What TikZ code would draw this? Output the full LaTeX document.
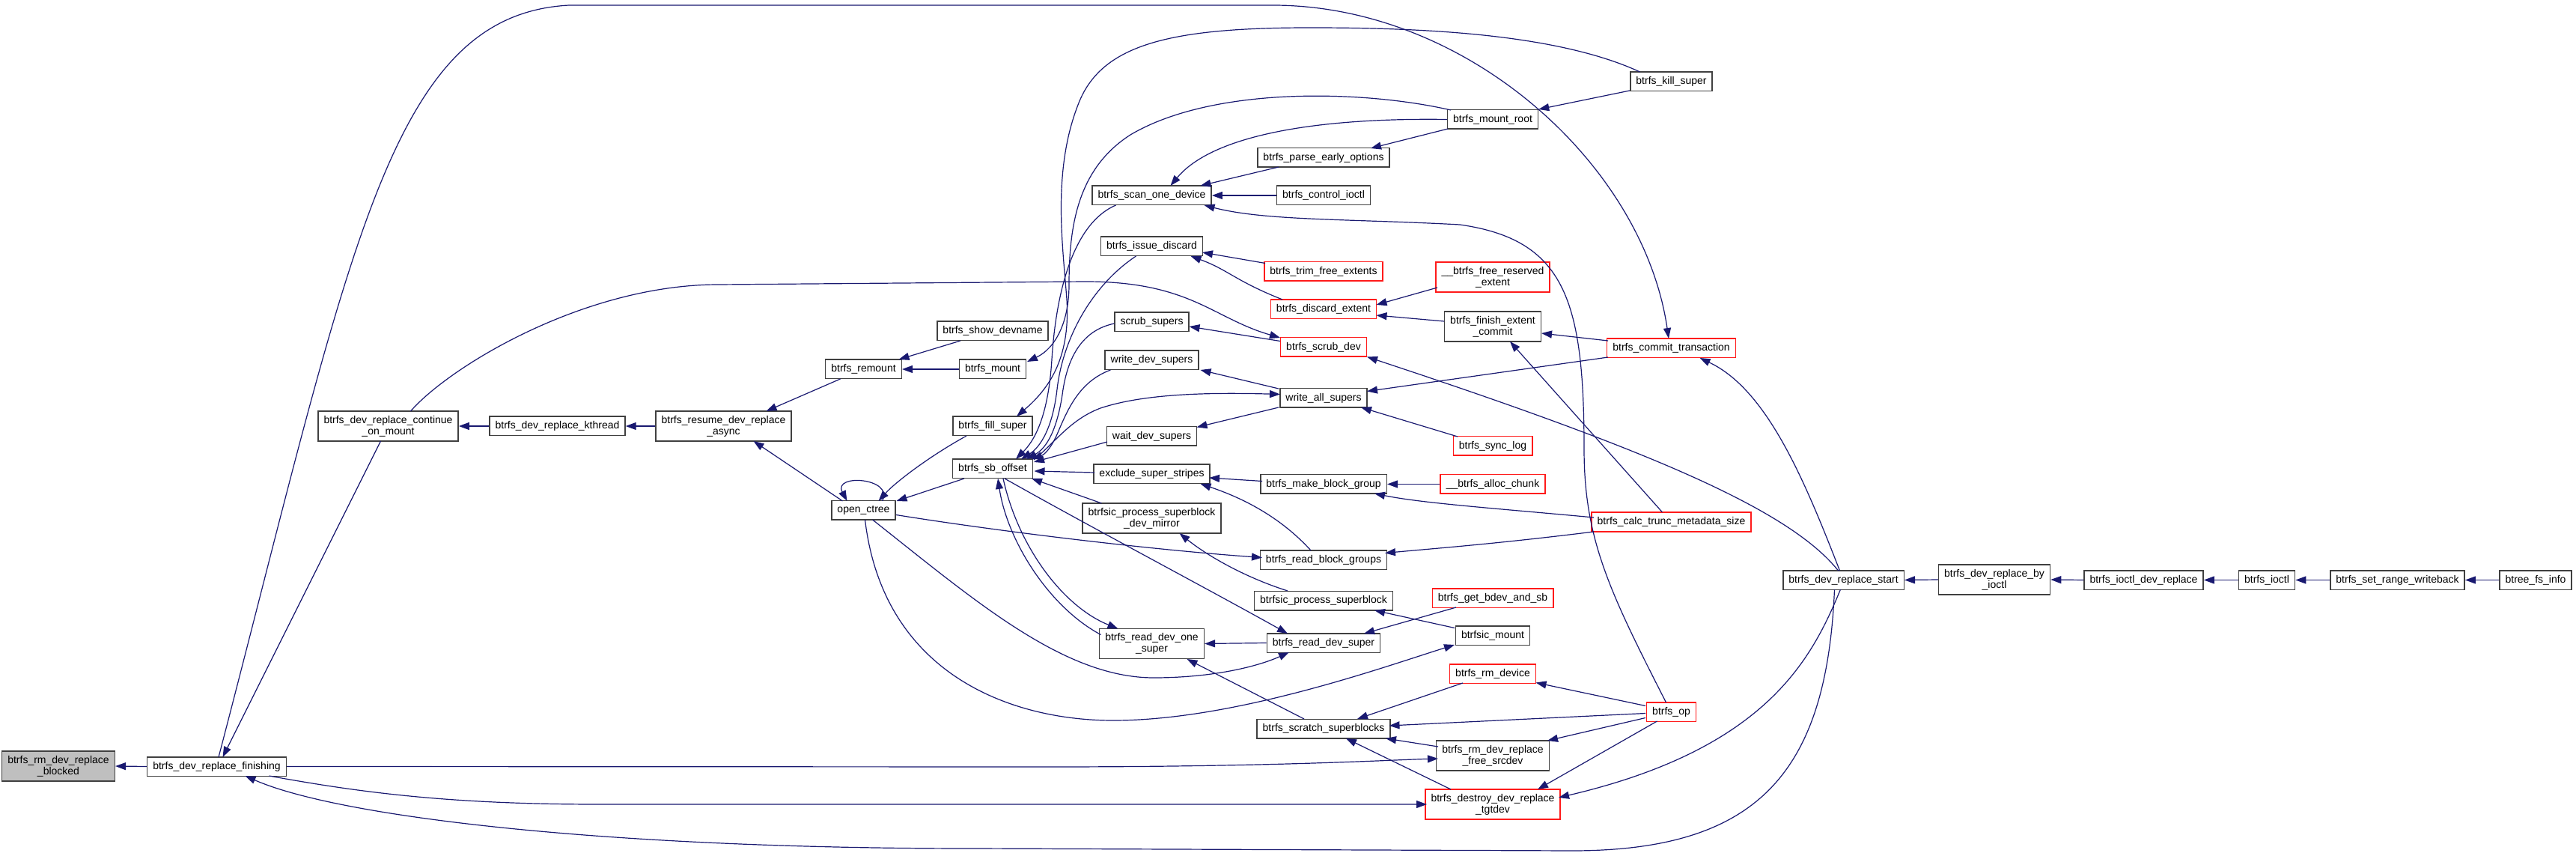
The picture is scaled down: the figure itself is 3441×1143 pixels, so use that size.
\documentclass[tikz,border=0pt]{standalone}
\usepackage{fontspec}
\setmainfont{Liberation Sans}
\usetikzlibrary{arrows.meta,calc}
\definecolor{edgec}{HTML}{191970}
\definecolor{nodeb}{HTML}{404040}
\definecolor{nred}{HTML}{FF1A1A}
\definecolor{ngray}{HTML}{BFBFBF}
\begin{document}
\begin{tikzpicture}[x=0.5pt,y=-0.5pt,
 nd/.style={draw=nodeb, line width=0.75pt, fill=white, inner xsep=3.8pt, inner ysep=0pt, minimum height=12.75pt, font=\fontsize{7}{7.5}\selectfont, align=center},
 twoline/.style={minimum height=20pt},
 rednd/.style={draw=nred},
 ed/.style={draw=edgec, line width=0.6pt, -{Triangle[length=7pt,width=5pt]}}]
\useasboundingbox (0,0) rectangle (3441,1143);
% nodes
\node[nd,fill=ngray,twoline] (blk) at (78,1023) {btrfs\_rm\_dev\_replace\\\_blocked};
\node[nd] (fin) at (289.5,1023.5) {btrfs\_dev\_replace\_finishing};
\node[nd,twoline] (com) at (518.5,569) {btrfs\_dev\_replace\_continue\\\_on\_mount};
\node[nd] (kth) at (744.5,569) {btrfs\_dev\_replace\_kthread};
\node[nd,twoline] (res) at (966.5,569) {btrfs\_resume\_dev\_replace\\\_async};
\node[nd] (rem) at (1153.5,493) {btrfs\_remount};
\node[nd] (oct) at (1153.5,681.5) {open\_ctree};
\node[nd] (sdn) at (1326,442) {btrfs\_show\_devname};
\node[nd] (mnt) at (1326,493) {btrfs\_mount};
\node[nd] (fil) at (1326,569) {btrfs\_fill\_super};
\node[nd] (sbo) at (1326,626) {btrfs\_sb\_offset};
\node[nd] (sod) at (1538.5,261) {btrfs\_scan\_one\_device};
\node[nd] (isd) at (1538.5,329) {btrfs\_issue\_discard};
\node[nd] (ssu) at (1538.5,430) {scrub\_supers};
\node[nd] (wds) at (1538.5,481) {write\_dev\_supers};
\node[nd] (wai) at (1538.5,582.5) {wait\_dev\_supers};
\node[nd] (ess) at (1538.5,633) {exclude\_super\_stripes};
\node[nd,twoline] (pdm) at (1538.5,692) {btrfsic\_process\_superblock\\\_dev\_mirror};
\node[nd,twoline] (rdo) at (1538.5,859.5) {btrfs\_read\_dev\_one\\\_super};
\node[nd] (peo) at (1768,210.5) {btrfs\_parse\_early\_options};
\node[nd] (cio) at (1768,261) {btrfs\_control\_ioctl};
\node[nd,rednd] (tfe) at (1768,362.5) {btrfs\_trim\_free\_extents};
\node[nd,rednd] (dex) at (1768,413) {btrfs\_discard\_extent};
\node[nd,rednd] (sdv) at (1768,463.5) {btrfs\_scrub\_dev};
\node[nd] (was) at (1768,531.5) {write\_all\_supers};
\node[nd] (mbg) at (1768,646.5) {btrfs\_make\_block\_group};
\node[nd] (rbg) at (1768,747.5) {btrfs\_read\_block\_groups};
\node[nd] (psb) at (1768,802) {btrfsic\_process\_superblock};
\node[nd] (rds) at (1768,858.5) {btrfs\_read\_dev\_super};
\node[nd] (scr) at (1768,973) {btrfs\_scratch\_superblocks};
\node[nd] (mro) at (1994,159.5) {btrfs\_mount\_root};
\node[nd,rednd,twoline] (fre) at (1994,370) {\_\_btrfs\_free\_reserved\\\_extent};
\node[nd,twoline] (fec) at (1994,436) {btrfs\_finish\_extent\\\_commit};
\node[nd,rednd] (slg) at (1994,595.5) {btrfs\_sync\_log};
\node[nd,rednd] (ach) at (1994,646.5) {\_\_btrfs\_alloc\_chunk};
\node[nd,rednd] (gbs) at (1994,798.5) {btrfs\_get\_bdev\_and\_sb};
\node[nd] (bmt) at (1994,848.5) {btrfsic\_mount};
\node[nd,rednd] (rmd) at (1994,899.5) {btrfs\_rm\_device};
\node[nd,twoline] (fsd) at (1994,1009) {btrfs\_rm\_dev\_replace\\\_free\_srcdev};
\node[nd,rednd,twoline] (dtg) at (1994,1074) {btrfs\_destroy\_dev\_replace\\\_tgtdev};
\node[nd] (kil) at (2232.5,109) {btrfs\_kill\_super};
\node[nd,rednd] (ctr) at (2232.5,465) {btrfs\_commit\_transaction};
\node[nd,rednd] (ctm) at (2232.5,697) {btrfs\_calc\_trunc\_metadata\_size};
\node[nd,rednd] (bop) at (2232.5,950.5) {btrfs\_op};
\node[nd] (drs) at (2462.5,774.5) {btrfs\_dev\_replace\_start};
\node[nd,twoline] (dbi) at (2664,774) {btrfs\_dev\_replace\_by\\\_ioctl};
\node[nd] (idr) at (2863.5,774.5) {btrfs\_ioctl\_dev\_replace};
\node[nd] (bio) at (3028,774.5) {btrfs\_ioctl};
\node[nd] (srw) at (3202.5,774.5) {btrfs\_set\_range\_writeback};
\node[nd] (bfi) at (3387,774.5) {btree\_fs\_info};
% edges
\draw[ed] (fin.west) -- (blk.east);
\draw[ed] ($(com)+(-10,20)$) -- ($(fin)+(8,-12.5)$);
\draw[ed] ($(fin)+(2.5,-12.5)$) .. controls (470,330) and (520,20) .. (760,7) -- (1700,7) .. controls (1960,7) and (2195,220) .. ($(ctr)+(-3.5,-13)$);
\draw[ed] (fin.east) -- (1400,1024) .. controls (1700,1024) and (1850,1015) .. ($(fsd)+(-73,4)$);
\draw[ed] ($(fin)+(70,12.5)$) .. controls (480,1058) and (600,1074) .. (800,1074) -- ($(dtg)+(-88,0)$);
\draw[ed] ($(drs)+(-12,12.5)$) .. controls (2440,1030) and (2350,1136) .. (2100,1136) -- (1300,1133) .. controls (800,1133) and (450,1090) .. ($(fin)+(38,12.5)$);
\draw[ed] ($(drs)+(-4,12.5)$) .. controls (2420,880) and (2360,1000) .. ($(dtg)+(88,-9)$);
\draw[ed] ($(com)+(30,-20)$) .. controls (600,490) and (780,380) .. (960,380) -- (1450,376) .. controls (1590,376) and (1620,425) .. ($(sdv)+(-58,-12.5)$);
\draw[ed] (kth.west) -- (com.east);
\draw[ed] (res.west) -- (kth.east);
\draw[ed] ($(rem)+(-31,13)$) -- ($(res)+(57,-20)$);
\draw[ed] ($(oct)+(-28,-12.5)$) -- ($(res)+(40,20)$);
\draw[ed] ($(oct)+(25,-12.5)$) .. controls (1195,638) and (1112,632) .. ($(oct)+(-22,-12.5)$);
\draw[ed] ($(fil)+(-35,13)$) .. controls (1240,610) and (1195,645) .. ($(oct)+(20,-12.5)$);
\draw[ed] ($(sbo)+(-38,13)$) -- ($(oct)+(44,-12.5)$);
\draw[ed] ($(oct)+(43.5,6)$) .. controls (1350,712) and (1550,735) .. ($(rbg)+(-82,-3)$);
\draw[ed] ($(oct)+(12,12.5)$) .. controls (1300,800) and (1420,905) .. (1541,905) .. controls (1620,905) and (1680,890) .. ($(rds)+(-46,12.5)$);
\draw[ed] ($(oct)+(2,12.5)$) .. controls (1180,900) and (1350,962) .. (1487,962) .. controls (1650,962) and (1850,890) .. ($(bmt)+(-51,12.5)$);
\draw[ed] ($(sbo)+(16,13)$) .. controls (1450,700) and (1620,790) .. ($(rds)+(-48,-12.5)$);
\draw[ed] (rds.west) -- (rdo.east);
\draw[ed] ($(gbs)+(-49,12.5)$) -- ($(rds)+(54,-12.5)$);
\draw[ed] ($(rdo)+(-68,-12)$) .. controls (1400,810) and (1345,720) .. ($(sbo)+(7,13)$);
\draw[ed] ($(sbo)+(14,13)$) .. controls (1360,730) and (1420,810) .. ($(rdo)+(-45,-20)$);
\draw[ed] ($(scr)+(-26,-13)$) -- ($(rdo)+(47,20.5)$);
\draw[ed] ($(rmd)+(-40,12.5)$) -- ($(scr)+(45,-13)$);
\draw[ed] ($(bop)+(-34.5,2)$) -- ($(scr)+(87.5,-4)$);
\draw[ed] ($(fsd)+(-73,-12)$) -- ($(scr)+(83,13)$);
\draw[ed] ($(dtg)+(-56,-20)$) -- ($(scr)+(30,13)$);
\draw[ed] ($(bop)+(-34.5,-8)$) -- ($(rmd)+(57.5,12)$);
\draw[ed] ($(bop)+(-34.5,8)$) -- ($(fsd)+(73,-20)$);
\draw[ed] ($(bop)+(-19,12.5)$) -- ($(dtg)+(60,-20)$);
\draw[ed] ($(bop)+(-7,-12.5)$) .. controls (2150,790) and (2116,720) .. (2116,600) .. controls (2116,400) and (2090,320) .. (1950,300) .. controls (1800,292) and (1690,295) .. ($(sod)+(70,13)$);
\draw[ed] (mro.west) .. controls (1760,157) and (1620,180) .. ($(sod)+(25,-13)$);
\draw[ed] ($(peo)+(-60,12.5)$) -- ($(sod)+(65,-13)$);
\draw[ed] (cio.west) -- (sod.east);
\draw[ed] ($(kil)+(-55.5,12)$) -- (mro.north east);
\draw[ed] ($(mro)+(-60,12.5)$) -- ($(peo)+(63,-12.5)$);
\draw[ed] ($(mro)+(-56,-12.5)$) .. controls (1820,120) and (1620,115) .. (1510,180) .. controls (1440,225) and (1428,300) .. (1428,380) .. controls (1428,430) and (1410,465) .. ($(mnt)+(46,-10)$);
\draw[ed] ($(kil)+(-42,-13)$) .. controls (2080,45) and (1900,37) .. (1750,37) .. controls (1560,37) and (1470,60) .. (1440,140) .. controls (1405,230) and (1420,330) .. (1425,400) .. controls (1430,480) and (1400,520) .. ($(fil)+(32,-13)$);
\draw[ed] ($(sdn)+(-43,13)$) -- ($(rem)+(47,-13)$);
\draw[ed] (mnt.west) -- (rem.east);
\draw[ed] ($(sod)+(-48,13)$) .. controls (1430,300) and (1410,400) .. (1405,480) .. controls (1400,560) and (1380,590) .. ($(sbo)+(31,-13)$);
\draw[ed] ($(isd)+(-21,13)$) .. controls (1460,380) and (1420,450) .. (1412,520) .. controls (1405,580) and (1385,600) .. ($(sbo)+(38,-13)$);
\draw[ed] ($(ssu)+(-50,2)$) .. controls (1450,440) and (1428,470) .. (1420,520) .. controls (1412,580) and (1395,600) .. ($(sbo)+(45,-13)$);
\draw[ed] ($(wds)+(-55,13)$) .. controls (1440,510) and (1425,550) .. (1412,580) .. controls (1403,600) and (1395,607) .. ($(sbo)+(52,-13)$);
\draw[ed] ($(wai)+(-59.5,7.5)$) -- ($(sbo)+(55,-9)$);
\draw[ed] ($(ess)+(-76.5,-2)$) -- ($(sbo)+(55.5,3)$);
\draw[ed] ($(pdm)+(-67,-20)$) -- ($(sbo)+(52,13)$);
\draw[ed] ($(sbo)+(55,-12)$) .. controls (1410,590) and (1430,560) .. (1470,545) .. controls (1530,525) and (1620,524) .. ($(was)+(-58,-5)$);
\draw[ed] ($(was)+(-60,-12.5)$) -- ($(wds)+(65,13)$);
\draw[ed] ($(was)+(-60,12.5)$) -- ($(wai)+(60,-12)$);
\draw[ed] ($(ctr)+(-84.5,12)$) -- ($(was)+(58,-9)$);
\draw[ed] ($(slg)+(-47,-12.5)$) -- ($(was)+(50,12.5)$);
\draw[ed] ($(sdv)+(-58,-8)$) -- ($(ssu)+(50,6)$);
\draw[ed] ($(drs)+(-7,-12.5)$) .. controls (2390,680) and (2200,600) .. ($(sdv)+(58,13)$);
\draw[ed] ($(drs)+(-5,-12.5)$) .. controls (2410,640) and (2360,520) .. ($(ctr)+(38,13)$);
\draw[ed] ($(ctr)+(-84.5,-10)$) -- ($(fec)+(65,9)$);
\draw[ed] ($(ctm)+(-12,-13)$) -- ($(fec)+(23,20)$);
\draw[ed] ($(ctm)+(-103.5,-6)$) .. controls (2000,679) and (1900,672) .. ($(mbg)+(68,12.5)$);
\draw[ed] ($(ctm)+(-103.5,13)$) .. controls (2000,726) and (1920,732) .. ($(rbg)+(82,-9)$);
\draw[ed] (ach.west) -- (mbg.east);
\draw[ed] ($(mbg)+(-82,-4)$) -- ($(ess)+(76.5,5)$);
\draw[ed] ($(rbg)+(-17,-12.5)$) .. controls (1710,690) and (1660,665) .. ($(ess)+(65,13)$);
\draw[ed] ($(psb)+(-48,-13)$) .. controls (1660,770) and (1610,740) .. ($(pdm)+(37,20)$);
\draw[ed] ($(bmt)+(-51,-10)$) -- ($(psb)+(68,13)$);
\draw[ed] ($(dex)+(-55,-13)$) .. controls (1650,375) and (1640,360) .. ($(isd)+(52,13)$);
\draw[ed] ($(tfe)+(-78,-11)$) -- ($(isd)+(67.5,8)$);
\draw[ed] ($(fre)+(-74,14)$) -- ($(dex)+(70.5,-6)$);
\draw[ed] ($(fec)+(-65,-7)$) -- ($(dex)+(70.5,8)$);
\draw[ed] (dbi.west) -- (drs.east);
\draw[ed] (idr.west) -- (dbi.east);
\draw[ed] (bio.west) -- (idr.east);
\draw[ed] (srw.west) -- (bio.east);
\draw[ed] (bfi.west) -- (srw.east);
\end{tikzpicture}
\end{document}
